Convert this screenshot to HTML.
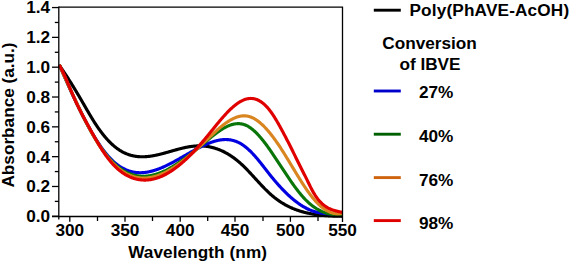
<!DOCTYPE html>
<html><head><meta charset="utf-8"><style>
html,body{margin:0;padding:0;background:#fff;width:569px;height:263px;overflow:hidden}
svg{display:block;font-family:"Liberation Sans", sans-serif}
</style></head><body>
<svg width="569" height="263" viewBox="0 0 569 263">
<rect width="569" height="263" fill="#fff"/>
<g fill="none" stroke-width="3.15" stroke-linejoin="round" stroke-linecap="butt">
<path stroke="#000000" d="M59.30,65.20 L59.80,65.92 L60.30,66.65 L60.80,67.37 L61.30,68.11 L61.80,68.84 L62.30,69.58 L62.80,70.32 L63.30,71.07 L63.80,71.81 L64.30,72.57 L64.80,73.32 L65.30,74.08 L65.80,74.84 L66.30,75.61 L66.80,76.38 L67.30,77.15 L67.80,77.93 L68.30,78.70 L68.80,79.49 L69.30,80.27 L69.80,81.06 L70.30,81.85 L70.80,82.65 L71.30,83.45 L71.80,84.25 L72.30,85.05 L72.80,85.86 L73.30,86.67 L73.80,87.49 L74.30,88.31 L74.80,89.13 L75.30,89.95 L75.80,90.78 L76.30,91.61 L76.80,92.44 L77.30,93.28 L77.80,94.12 L78.30,94.96 L78.80,95.81 L79.30,96.65 L79.80,97.51 L80.30,98.36 L80.80,99.22 L81.30,100.08 L81.80,100.94 L82.30,101.80 L82.80,102.67 L83.30,103.53 L83.80,104.40 L84.30,105.27 L84.80,106.13 L85.30,107.00 L85.80,107.86 L86.30,108.73 L86.80,109.59 L87.30,110.45 L87.80,111.31 L88.30,112.16 L88.80,113.01 L89.30,113.86 L89.80,114.70 L90.30,115.54 L90.80,116.38 L91.30,117.21 L91.80,118.03 L92.30,118.85 L92.80,119.66 L93.30,120.47 L93.80,121.27 L94.30,122.06 L94.80,122.85 L95.30,123.62 L95.80,124.39 L96.30,125.15 L96.80,125.90 L97.30,126.64 L97.80,127.37 L98.30,128.09 L98.80,128.80 L99.30,129.51 L99.80,130.20 L100.30,130.89 L100.80,131.56 L101.30,132.23 L101.80,132.88 L102.30,133.53 L102.80,134.17 L103.30,134.80 L103.80,135.42 L104.30,136.03 L104.80,136.63 L105.30,137.22 L105.80,137.80 L106.30,138.37 L106.80,138.94 L107.30,139.49 L107.80,140.03 L108.30,140.57 L108.80,141.10 L109.30,141.61 L109.80,142.12 L110.30,142.62 L110.80,143.11 L111.30,143.59 L111.80,144.06 L112.30,144.52 L112.80,144.97 L113.30,145.41 L113.80,145.84 L114.30,146.27 L114.80,146.68 L115.30,147.09 L115.80,147.48 L116.30,147.87 L116.80,148.25 L117.30,148.62 L117.80,148.97 L118.30,149.32 L118.80,149.66 L119.30,149.99 L119.80,150.32 L120.30,150.63 L120.80,150.93 L121.30,151.23 L121.80,151.51 L122.30,151.79 L122.80,152.06 L123.30,152.32 L123.80,152.57 L124.30,152.82 L124.80,153.05 L125.30,153.28 L125.80,153.50 L126.30,153.71 L126.80,153.91 L127.30,154.11 L127.80,154.29 L128.30,154.47 L128.80,154.65 L129.30,154.81 L129.80,154.97 L130.30,155.12 L130.80,155.26 L131.30,155.40 L131.80,155.53 L132.30,155.65 L132.80,155.77 L133.30,155.87 L133.80,155.98 L134.30,156.07 L134.80,156.16 L135.30,156.24 L135.80,156.32 L136.30,156.39 L136.80,156.45 L137.30,156.51 L137.80,156.56 L138.30,156.61 L138.80,156.65 L139.30,156.68 L139.80,156.71 L140.30,156.74 L140.80,156.75 L141.30,156.77 L141.80,156.77 L142.30,156.78 L142.80,156.77 L143.30,156.77 L143.80,156.75 L144.30,156.74 L144.80,156.71 L145.30,156.69 L145.80,156.66 L146.30,156.62 L146.80,156.58 L147.30,156.54 L147.80,156.49 L148.30,156.44 L148.80,156.38 L149.30,156.32 L149.80,156.25 L150.30,156.19 L150.80,156.12 L151.30,156.04 L151.80,155.96 L152.30,155.88 L152.80,155.80 L153.30,155.71 L153.80,155.62 L154.30,155.52 L154.80,155.42 L155.30,155.32 L155.80,155.22 L156.30,155.12 L156.80,155.01 L157.30,154.90 L157.80,154.78 L158.30,154.67 L158.80,154.55 L159.30,154.43 L159.80,154.31 L160.30,154.19 L160.80,154.06 L161.30,153.93 L161.80,153.81 L162.30,153.68 L162.80,153.54 L163.30,153.41 L163.80,153.28 L164.30,153.14 L164.80,153.00 L165.30,152.87 L165.80,152.73 L166.30,152.59 L166.80,152.45 L167.30,152.30 L167.80,152.16 L168.30,152.02 L168.80,151.88 L169.30,151.73 L169.80,151.59 L170.30,151.45 L170.80,151.30 L171.30,151.16 L171.80,151.02 L172.30,150.87 L172.80,150.73 L173.30,150.59 L173.80,150.45 L174.30,150.30 L174.80,150.16 L175.30,150.02 L175.80,149.88 L176.30,149.74 L176.80,149.61 L177.30,149.47 L177.80,149.34 L178.30,149.20 L178.80,149.07 L179.30,148.94 L179.80,148.81 L180.30,148.68 L180.80,148.55 L181.30,148.43 L181.80,148.31 L182.30,148.19 L182.80,148.07 L183.30,147.95 L183.80,147.84 L184.30,147.72 L184.80,147.61 L185.30,147.51 L185.80,147.40 L186.30,147.30 L186.80,147.20 L187.30,147.11 L187.80,147.01 L188.30,146.92 L188.80,146.84 L189.30,146.75 L189.80,146.67 L190.30,146.60 L190.80,146.52 L191.30,146.45 L191.80,146.39 L192.30,146.32 L192.80,146.26 L193.30,146.21 L193.80,146.16 L194.30,146.11 L194.80,146.07 L195.30,146.03 L195.80,146.00 L196.30,145.97 L196.80,145.94 L197.30,145.92 L197.80,145.91 L198.30,145.90 L198.80,145.89 L199.30,145.89 L199.80,145.89 L200.30,145.90 L200.80,145.91 L201.30,145.92 L201.80,145.94 L202.30,145.97 L202.80,146.00 L203.30,146.03 L203.80,146.07 L204.30,146.12 L204.80,146.17 L205.30,146.22 L205.80,146.28 L206.30,146.34 L206.80,146.41 L207.30,146.48 L207.80,146.56 L208.30,146.65 L208.80,146.73 L209.30,146.83 L209.80,146.92 L210.30,147.03 L210.80,147.14 L211.30,147.25 L211.80,147.37 L212.30,147.49 L212.80,147.62 L213.30,147.75 L213.80,147.89 L214.30,148.03 L214.80,148.18 L215.30,148.34 L215.80,148.50 L216.30,148.66 L216.80,148.83 L217.30,149.01 L217.80,149.19 L218.30,149.37 L218.80,149.56 L219.30,149.76 L219.80,149.96 L220.30,150.17 L220.80,150.38 L221.30,150.60 L221.80,150.82 L222.30,151.05 L222.80,151.29 L223.30,151.53 L223.80,151.78 L224.30,152.03 L224.80,152.28 L225.30,152.55 L225.80,152.82 L226.30,153.09 L226.80,153.37 L227.30,153.66 L227.80,153.95 L228.30,154.24 L228.80,154.55 L229.30,154.86 L229.80,155.17 L230.30,155.49 L230.80,155.82 L231.30,156.15 L231.80,156.49 L232.30,156.83 L232.80,157.18 L233.30,157.54 L233.80,157.90 L234.30,158.27 L234.80,158.64 L235.30,159.02 L235.80,159.41 L236.30,159.80 L236.80,160.20 L237.30,160.61 L237.80,161.02 L238.30,161.43 L238.80,161.86 L239.30,162.29 L239.80,162.72 L240.30,163.16 L240.80,163.61 L241.30,164.07 L241.80,164.53 L242.30,165.00 L242.80,165.47 L243.30,165.95 L243.80,166.43 L244.30,166.92 L244.80,167.42 L245.30,167.92 L245.80,168.42 L246.30,168.93 L246.80,169.44 L247.30,169.96 L247.80,170.48 L248.30,171.00 L248.80,171.53 L249.30,172.06 L249.80,172.59 L250.30,173.12 L250.80,173.66 L251.30,174.20 L251.80,174.74 L252.30,175.29 L252.80,175.83 L253.30,176.38 L253.80,176.92 L254.30,177.47 L254.80,178.02 L255.30,178.56 L255.80,179.11 L256.30,179.66 L256.80,180.21 L257.30,180.76 L257.80,181.30 L258.30,181.85 L258.80,182.39 L259.30,182.93 L259.80,183.47 L260.30,184.01 L260.80,184.55 L261.30,185.08 L261.80,185.61 L262.30,186.14 L262.80,186.66 L263.30,187.19 L263.80,187.70 L264.30,188.22 L264.80,188.73 L265.30,189.24 L265.80,189.74 L266.30,190.23 L266.80,190.73 L267.30,191.21 L267.80,191.69 L268.30,192.17 L268.80,192.64 L269.30,193.10 L269.80,193.56 L270.30,194.01 L270.80,194.46 L271.30,194.90 L271.80,195.33 L272.30,195.75 L272.80,196.17 L273.30,196.59 L273.80,196.99 L274.30,197.40 L274.80,197.79 L275.30,198.18 L275.80,198.56 L276.30,198.94 L276.80,199.31 L277.30,199.68 L277.80,200.04 L278.30,200.39 L278.80,200.74 L279.30,201.09 L279.80,201.42 L280.30,201.76 L280.80,202.08 L281.30,202.41 L281.80,202.72 L282.30,203.03 L282.80,203.34 L283.30,203.64 L283.80,203.94 L284.30,204.23 L284.80,204.51 L285.30,204.79 L285.80,205.07 L286.30,205.34 L286.80,205.61 L287.30,205.87 L287.80,206.13 L288.30,206.38 L288.80,206.63 L289.30,206.87 L289.80,207.11 L290.30,207.34 L290.80,207.57 L291.30,207.80 L291.80,208.02 L292.30,208.23 L292.80,208.45 L293.30,208.65 L293.80,208.86 L294.30,209.06 L294.80,209.26 L295.30,209.45 L295.80,209.64 L296.30,209.82 L296.80,210.00 L297.30,210.18 L297.80,210.35 L298.30,210.52 L298.80,210.69 L299.30,210.85 L299.80,211.01 L300.30,211.17 L300.80,211.32 L301.30,211.47 L301.80,211.61 L302.30,211.75 L302.80,211.89 L303.30,212.03 L303.80,212.16 L304.30,212.29 L304.80,212.42 L305.30,212.54 L305.80,212.66 L306.30,212.78 L306.80,212.90 L307.30,213.01 L307.80,213.12 L308.30,213.23 L308.80,213.33 L309.30,213.44 L309.80,213.54 L310.30,213.63 L310.80,213.73 L311.30,213.82 L311.80,213.91 L312.30,214.00 L312.80,214.08 L313.30,214.17 L313.80,214.25 L314.30,214.33 L314.80,214.41 L315.30,214.48 L315.80,214.56 L316.30,214.63 L316.80,214.70 L317.30,214.77 L317.80,214.83 L318.30,214.90 L318.80,214.96 L319.30,215.02 L319.80,215.08 L320.30,215.14 L320.80,215.19 L321.30,215.25 L321.80,215.30 L322.30,215.35 L322.80,215.40 L323.30,215.44 L323.80,215.49 L324.30,215.53 L324.80,215.58 L325.30,215.62 L325.80,215.66 L326.30,215.70 L326.80,215.73 L327.30,215.77 L327.80,215.80 L328.30,215.84 L328.80,215.87 L329.30,215.90 L329.80,215.93 L330.30,215.95 L330.80,215.98 L331.30,216.01 L331.80,216.03 L332.30,216.05 L332.80,216.08 L333.30,216.10 L333.80,216.12 L334.30,216.13 L334.80,216.15 L335.30,216.17 L335.80,216.18 L336.30,216.20 L336.80,216.21 L337.30,216.23 L337.80,216.24 L338.30,216.25 L338.80,216.26 L339.30,216.27 L339.80,216.28 L340.30,216.28 L340.80,216.29 L341.30,216.30 L341.80,216.30 L342.30,216.31 L342.80,216.31 L343.00,216.31"/>
<path stroke="#0000e0" d="M59.30,64.64 L59.80,65.80 L60.30,66.95 L60.80,68.10 L61.30,69.25 L61.80,70.40 L62.30,71.54 L62.80,72.69 L63.30,73.83 L63.80,74.97 L64.30,76.11 L64.80,77.24 L65.30,78.37 L65.80,79.50 L66.30,80.63 L66.80,81.75 L67.30,82.88 L67.80,83.99 L68.30,85.11 L68.80,86.22 L69.30,87.33 L69.80,88.44 L70.30,89.54 L70.80,90.64 L71.30,91.74 L71.80,92.83 L72.30,93.91 L72.80,95.00 L73.30,96.08 L73.80,97.16 L74.30,98.23 L74.80,99.30 L75.30,100.36 L75.80,101.42 L76.30,102.47 L76.80,103.52 L77.30,104.57 L77.80,105.61 L78.30,106.64 L78.80,107.67 L79.30,108.70 L79.80,109.72 L80.30,110.73 L80.80,111.74 L81.30,112.75 L81.80,113.75 L82.30,114.74 L82.80,115.73 L83.30,116.71 L83.80,117.68 L84.30,118.65 L84.80,119.62 L85.30,120.57 L85.80,121.52 L86.30,122.47 L86.80,123.41 L87.30,124.34 L87.80,125.26 L88.30,126.18 L88.80,127.09 L89.30,127.99 L89.80,128.89 L90.30,129.78 L90.80,130.66 L91.30,131.54 L91.80,132.41 L92.30,133.27 L92.80,134.12 L93.30,134.96 L93.80,135.80 L94.30,136.63 L94.80,137.45 L95.30,138.27 L95.80,139.07 L96.30,139.87 L96.80,140.66 L97.30,141.43 L97.80,142.21 L98.30,142.97 L98.80,143.72 L99.30,144.47 L99.80,145.20 L100.30,145.93 L100.80,146.65 L101.30,147.36 L101.80,148.06 L102.30,148.75 L102.80,149.43 L103.30,150.10 L103.80,150.76 L104.30,151.41 L104.80,152.05 L105.30,152.68 L105.80,153.30 L106.30,153.92 L106.80,154.52 L107.30,155.11 L107.80,155.69 L108.30,156.26 L108.80,156.82 L109.30,157.36 L109.80,157.90 L110.30,158.43 L110.80,158.94 L111.30,159.45 L111.80,159.94 L112.30,160.43 L112.80,160.90 L113.30,161.36 L113.80,161.81 L114.30,162.26 L114.80,162.69 L115.30,163.11 L115.80,163.52 L116.30,163.92 L116.80,164.31 L117.30,164.69 L117.80,165.06 L118.30,165.42 L118.80,165.77 L119.30,166.12 L119.80,166.45 L120.30,166.77 L120.80,167.08 L121.30,167.39 L121.80,167.68 L122.30,167.97 L122.80,168.24 L123.30,168.51 L123.80,168.77 L124.30,169.02 L124.80,169.26 L125.30,169.49 L125.80,169.71 L126.30,169.93 L126.80,170.13 L127.30,170.33 L127.80,170.52 L128.30,170.70 L128.80,170.87 L129.30,171.03 L129.80,171.19 L130.30,171.34 L130.80,171.48 L131.30,171.61 L131.80,171.73 L132.30,171.85 L132.80,171.96 L133.30,172.06 L133.80,172.15 L134.30,172.24 L134.80,172.32 L135.30,172.39 L135.80,172.46 L136.30,172.51 L136.80,172.56 L137.30,172.61 L137.80,172.64 L138.30,172.67 L138.80,172.69 L139.30,172.71 L139.80,172.72 L140.30,172.72 L140.80,172.72 L141.30,172.71 L141.80,172.69 L142.30,172.67 L142.80,172.64 L143.30,172.60 L143.80,172.56 L144.30,172.52 L144.80,172.46 L145.30,172.40 L145.80,172.34 L146.30,172.27 L146.80,172.19 L147.30,172.11 L147.80,172.02 L148.30,171.93 L148.80,171.83 L149.30,171.73 L149.80,171.62 L150.30,171.51 L150.80,171.39 L151.30,171.27 L151.80,171.14 L152.30,171.01 L152.80,170.87 L153.30,170.73 L153.80,170.58 L154.30,170.43 L154.80,170.27 L155.30,170.11 L155.80,169.95 L156.30,169.78 L156.80,169.61 L157.30,169.43 L157.80,169.25 L158.30,169.06 L158.80,168.88 L159.30,168.68 L159.80,168.49 L160.30,168.29 L160.80,168.08 L161.30,167.88 L161.80,167.67 L162.30,167.45 L162.80,167.24 L163.30,167.02 L163.80,166.80 L164.30,166.57 L164.80,166.34 L165.30,166.11 L165.80,165.87 L166.30,165.64 L166.80,165.40 L167.30,165.15 L167.80,164.91 L168.30,164.66 L168.80,164.41 L169.30,164.16 L169.80,163.90 L170.30,163.65 L170.80,163.39 L171.30,163.13 L171.80,162.87 L172.30,162.60 L172.80,162.34 L173.30,162.07 L173.80,161.80 L174.30,161.53 L174.80,161.25 L175.30,160.98 L175.80,160.70 L176.30,160.43 L176.80,160.15 L177.30,159.87 L177.80,159.59 L178.30,159.31 L178.80,159.03 L179.30,158.74 L179.80,158.46 L180.30,158.18 L180.80,157.89 L181.30,157.61 L181.80,157.32 L182.30,157.03 L182.80,156.75 L183.30,156.46 L183.80,156.17 L184.30,155.89 L184.80,155.60 L185.30,155.31 L185.80,155.03 L186.30,154.74 L186.80,154.45 L187.30,154.17 L187.80,153.88 L188.30,153.60 L188.80,153.31 L189.30,153.03 L189.80,152.74 L190.30,152.46 L190.80,152.18 L191.30,151.90 L191.80,151.62 L192.30,151.34 L192.80,151.07 L193.30,150.79 L193.80,150.51 L194.30,150.24 L194.80,149.97 L195.30,149.70 L195.80,149.43 L196.30,149.16 L196.80,148.90 L197.30,148.63 L197.80,148.37 L198.30,148.11 L198.80,147.85 L199.30,147.60 L199.80,147.35 L200.30,147.09 L200.80,146.85 L201.30,146.60 L201.80,146.36 L202.30,146.11 L202.80,145.87 L203.30,145.64 L203.80,145.41 L204.30,145.18 L204.80,144.95 L205.30,144.72 L205.80,144.50 L206.30,144.28 L206.80,144.07 L207.30,143.86 L207.80,143.65 L208.30,143.45 L208.80,143.25 L209.30,143.05 L209.80,142.86 L210.30,142.67 L210.80,142.48 L211.30,142.30 L211.80,142.13 L212.30,141.96 L212.80,141.79 L213.30,141.63 L213.80,141.48 L214.30,141.33 L214.80,141.18 L215.30,141.04 L215.80,140.91 L216.30,140.78 L216.80,140.65 L217.30,140.54 L217.80,140.42 L218.30,140.32 L218.80,140.22 L219.30,140.13 L219.80,140.04 L220.30,139.96 L220.80,139.88 L221.30,139.82 L221.80,139.76 L222.30,139.70 L222.80,139.66 L223.30,139.62 L223.80,139.59 L224.30,139.56 L224.80,139.55 L225.30,139.54 L225.80,139.54 L226.30,139.54 L226.80,139.56 L227.30,139.58 L227.80,139.61 L228.30,139.65 L228.80,139.70 L229.30,139.76 L229.80,139.82 L230.30,139.90 L230.80,139.98 L231.30,140.07 L231.80,140.18 L232.30,140.29 L232.80,140.41 L233.30,140.54 L233.80,140.68 L234.30,140.83 L234.80,140.99 L235.30,141.16 L235.80,141.34 L236.30,141.53 L236.80,141.73 L237.30,141.94 L237.80,142.16 L238.30,142.39 L238.80,142.63 L239.30,142.89 L239.80,143.15 L240.30,143.43 L240.80,143.72 L241.30,144.02 L241.80,144.33 L242.30,144.65 L242.80,144.98 L243.30,145.33 L243.80,145.68 L244.30,146.05 L244.80,146.43 L245.30,146.82 L245.80,147.21 L246.30,147.62 L246.80,148.04 L247.30,148.47 L247.80,148.91 L248.30,149.35 L248.80,149.81 L249.30,150.27 L249.80,150.75 L250.30,151.23 L250.80,151.73 L251.30,152.23 L251.80,152.74 L252.30,153.25 L252.80,153.78 L253.30,154.31 L253.80,154.85 L254.30,155.40 L254.80,155.96 L255.30,156.52 L255.80,157.09 L256.30,157.67 L256.80,158.25 L257.30,158.84 L257.80,159.44 L258.30,160.04 L258.80,160.65 L259.30,161.27 L259.80,161.89 L260.30,162.51 L260.80,163.14 L261.30,163.77 L261.80,164.40 L262.30,165.04 L262.80,165.68 L263.30,166.32 L263.80,166.96 L264.30,167.61 L264.80,168.25 L265.30,168.90 L265.80,169.54 L266.30,170.19 L266.80,170.83 L267.30,171.47 L267.80,172.11 L268.30,172.75 L268.80,173.39 L269.30,174.02 L269.80,174.65 L270.30,175.28 L270.80,175.90 L271.30,176.52 L271.80,177.13 L272.30,177.74 L272.80,178.35 L273.30,178.95 L273.80,179.55 L274.30,180.15 L274.80,180.74 L275.30,181.33 L275.80,181.91 L276.30,182.49 L276.80,183.07 L277.30,183.64 L277.80,184.20 L278.30,184.77 L278.80,185.32 L279.30,185.88 L279.80,186.43 L280.30,186.97 L280.80,187.51 L281.30,188.05 L281.80,188.58 L282.30,189.11 L282.80,189.63 L283.30,190.15 L283.80,190.66 L284.30,191.17 L284.80,191.67 L285.30,192.17 L285.80,192.66 L286.30,193.15 L286.80,193.64 L287.30,194.12 L287.80,194.59 L288.30,195.06 L288.80,195.52 L289.30,195.98 L289.80,196.44 L290.30,196.89 L290.80,197.33 L291.30,197.77 L291.80,198.20 L292.30,198.63 L292.80,199.05 L293.30,199.47 L293.80,199.88 L294.30,200.28 L294.80,200.68 L295.30,201.08 L295.80,201.47 L296.30,201.85 L296.80,202.23 L297.30,202.60 L297.80,202.96 L298.30,203.32 L298.80,203.68 L299.30,204.03 L299.80,204.37 L300.30,204.71 L300.80,205.04 L301.30,205.36 L301.80,205.68 L302.30,205.99 L302.80,206.30 L303.30,206.60 L303.80,206.89 L304.30,207.18 L304.80,207.46 L305.30,207.74 L305.80,208.01 L306.30,208.27 L306.80,208.53 L307.30,208.78 L307.80,209.02 L308.30,209.25 L308.80,209.48 L309.30,209.71 L309.80,209.92 L310.30,210.13 L310.80,210.34 L311.30,210.53 L311.80,210.72 L312.30,210.90 L312.80,211.08 L313.30,211.25 L313.80,211.41 L314.30,211.56 L314.80,211.71 L315.30,211.85 L315.80,211.99 L316.30,212.11 L316.80,212.24 L317.30,212.35 L317.80,212.46 L318.30,212.57 L318.80,212.67 L319.30,212.76 L319.80,212.85 L320.30,212.94 L320.80,213.02 L321.30,213.09 L321.80,213.17 L322.30,213.24 L322.80,213.30 L323.30,213.37 L323.80,213.43 L324.30,213.49 L324.80,213.54 L325.30,213.59 L325.80,213.65 L326.30,213.70 L326.80,213.74 L327.30,213.79 L327.80,213.84 L328.30,213.88 L328.80,213.93 L329.30,213.97 L329.80,214.01 L330.30,214.06 L330.80,214.10 L331.30,214.15 L331.80,214.19 L332.30,214.24 L332.80,214.29 L333.30,214.34 L333.80,214.39 L334.30,214.44 L334.80,214.49 L335.30,214.55 L335.80,214.61 L336.30,214.67 L336.80,214.74 L337.30,214.81 L337.80,214.88 L338.30,214.96 L338.80,215.04 L339.30,215.12 L339.80,215.21 L340.30,215.31 L340.80,215.41 L341.30,215.51 L341.80,215.62 L342.30,215.74 L342.50,215.78"/>
<path stroke="#0a760a" d="M59.30,64.60 L59.80,65.75 L60.30,66.90 L60.80,68.05 L61.30,69.20 L61.80,70.34 L62.30,71.48 L62.80,72.62 L63.30,73.76 L63.80,74.90 L64.30,76.04 L64.80,77.17 L65.30,78.30 L65.80,79.43 L66.30,80.56 L66.80,81.69 L67.30,82.81 L67.80,83.93 L68.30,85.05 L68.80,86.16 L69.30,87.27 L69.80,88.38 L70.30,89.49 L70.80,90.59 L71.30,91.69 L71.80,92.78 L72.30,93.88 L72.80,94.96 L73.30,96.05 L73.80,97.13 L74.30,98.21 L74.80,99.28 L75.30,100.35 L75.80,101.42 L76.30,102.48 L76.80,103.54 L77.30,104.59 L77.80,105.64 L78.30,106.68 L78.80,107.72 L79.30,108.75 L79.80,109.78 L80.30,110.81 L80.80,111.83 L81.30,112.84 L81.80,113.85 L82.30,114.85 L82.80,115.85 L83.30,116.84 L83.80,117.83 L84.30,118.81 L84.80,119.78 L85.30,120.75 L85.80,121.72 L86.30,122.67 L86.80,123.62 L87.30,124.57 L87.80,125.51 L88.30,126.44 L88.80,127.36 L89.30,128.28 L89.80,129.19 L90.30,130.10 L90.80,130.99 L91.30,131.88 L91.80,132.77 L92.30,133.64 L92.80,134.51 L93.30,135.37 L93.80,136.22 L94.30,137.07 L94.80,137.91 L95.30,138.74 L95.80,139.56 L96.30,140.37 L96.80,141.18 L97.30,141.98 L97.80,142.77 L98.30,143.55 L98.80,144.32 L99.30,145.08 L99.80,145.84 L100.30,146.58 L100.80,147.32 L101.30,148.05 L101.80,148.77 L102.30,149.48 L102.80,150.18 L103.30,150.87 L103.80,151.55 L104.30,152.22 L104.80,152.89 L105.30,153.54 L105.80,154.18 L106.30,154.81 L106.80,155.44 L107.30,156.05 L107.80,156.65 L108.30,157.24 L108.80,157.83 L109.30,158.40 L109.80,158.96 L110.30,159.51 L110.80,160.05 L111.30,160.58 L111.80,161.10 L112.30,161.62 L112.80,162.12 L113.30,162.61 L113.80,163.09 L114.30,163.57 L114.80,164.03 L115.30,164.48 L115.80,164.93 L116.30,165.36 L116.80,165.79 L117.30,166.20 L117.80,166.61 L118.30,167.01 L118.80,167.39 L119.30,167.77 L119.80,168.14 L120.30,168.50 L120.80,168.86 L121.30,169.20 L121.80,169.53 L122.30,169.86 L122.80,170.18 L123.30,170.48 L123.80,170.78 L124.30,171.07 L124.80,171.36 L125.30,171.63 L125.80,171.89 L126.30,172.15 L126.80,172.40 L127.30,172.64 L127.80,172.87 L128.30,173.10 L128.80,173.31 L129.30,173.52 L129.80,173.72 L130.30,173.91 L130.80,174.09 L131.30,174.27 L131.80,174.44 L132.30,174.60 L132.80,174.75 L133.30,174.89 L133.80,175.03 L134.30,175.16 L134.80,175.28 L135.30,175.40 L135.80,175.50 L136.30,175.60 L136.80,175.69 L137.30,175.78 L137.80,175.86 L138.30,175.93 L138.80,175.99 L139.30,176.05 L139.80,176.10 L140.30,176.14 L140.80,176.18 L141.30,176.21 L141.80,176.23 L142.30,176.24 L142.80,176.25 L143.30,176.25 L143.80,176.25 L144.30,176.24 L144.80,176.22 L145.30,176.20 L145.80,176.17 L146.30,176.13 L146.80,176.09 L147.30,176.04 L147.80,175.98 L148.30,175.92 L148.80,175.85 L149.30,175.78 L149.80,175.70 L150.30,175.61 L150.80,175.52 L151.30,175.43 L151.80,175.32 L152.30,175.22 L152.80,175.10 L153.30,174.98 L153.80,174.86 L154.30,174.73 L154.80,174.59 L155.30,174.45 L155.80,174.30 L156.30,174.15 L156.80,173.99 L157.30,173.83 L157.80,173.66 L158.30,173.49 L158.80,173.31 L159.30,173.13 L159.80,172.94 L160.30,172.75 L160.80,172.55 L161.30,172.35 L161.80,172.14 L162.30,171.93 L162.80,171.71 L163.30,171.49 L163.80,171.27 L164.30,171.04 L164.80,170.80 L165.30,170.57 L165.80,170.32 L166.30,170.08 L166.80,169.82 L167.30,169.57 L167.80,169.31 L168.30,169.05 L168.80,168.78 L169.30,168.51 L169.80,168.23 L170.30,167.95 L170.80,167.67 L171.30,167.38 L171.80,167.09 L172.30,166.80 L172.80,166.50 L173.30,166.20 L173.80,165.90 L174.30,165.59 L174.80,165.28 L175.30,164.97 L175.80,164.65 L176.30,164.33 L176.80,164.00 L177.30,163.68 L177.80,163.35 L178.30,163.01 L178.80,162.68 L179.30,162.34 L179.80,162.00 L180.30,161.65 L180.80,161.30 L181.30,160.95 L181.80,160.60 L182.30,160.25 L182.80,159.89 L183.30,159.53 L183.80,159.17 L184.30,158.80 L184.80,158.43 L185.30,158.06 L185.80,157.69 L186.30,157.32 L186.80,156.94 L187.30,156.56 L187.80,156.18 L188.30,155.80 L188.80,155.42 L189.30,155.03 L189.80,154.64 L190.30,154.25 L190.80,153.86 L191.30,153.47 L191.80,153.08 L192.30,152.68 L192.80,152.28 L193.30,151.88 L193.80,151.48 L194.30,151.08 L194.80,150.68 L195.30,150.28 L195.80,149.87 L196.30,149.46 L196.80,149.06 L197.30,148.65 L197.80,148.24 L198.30,147.83 L198.80,147.42 L199.30,147.00 L199.80,146.59 L200.30,146.18 L200.80,145.76 L201.30,145.35 L201.80,144.93 L202.30,144.52 L202.80,144.10 L203.30,143.69 L203.80,143.27 L204.30,142.85 L204.80,142.43 L205.30,142.02 L205.80,141.60 L206.30,141.18 L206.80,140.76 L207.30,140.35 L207.80,139.93 L208.30,139.52 L208.80,139.10 L209.30,138.69 L209.80,138.28 L210.30,137.87 L210.80,137.46 L211.30,137.06 L211.80,136.65 L212.30,136.25 L212.80,135.85 L213.30,135.46 L213.80,135.07 L214.30,134.68 L214.80,134.29 L215.30,133.91 L215.80,133.53 L216.30,133.16 L216.80,132.79 L217.30,132.42 L217.80,132.06 L218.30,131.71 L218.80,131.36 L219.30,131.01 L219.80,130.67 L220.30,130.34 L220.80,130.01 L221.30,129.69 L221.80,129.37 L222.30,129.06 L222.80,128.75 L223.30,128.46 L223.80,128.17 L224.30,127.88 L224.80,127.61 L225.30,127.34 L225.80,127.08 L226.30,126.83 L226.80,126.58 L227.30,126.35 L227.80,126.12 L228.30,125.90 L228.80,125.69 L229.30,125.49 L229.80,125.30 L230.30,125.12 L230.80,124.95 L231.30,124.78 L231.80,124.63 L232.30,124.49 L232.80,124.36 L233.30,124.23 L233.80,124.12 L234.30,124.03 L234.80,123.94 L235.30,123.86 L235.80,123.80 L236.30,123.74 L236.80,123.70 L237.30,123.67 L237.80,123.66 L238.30,123.65 L238.80,123.66 L239.30,123.68 L239.80,123.72 L240.30,123.76 L240.80,123.83 L241.30,123.90 L241.80,123.99 L242.30,124.10 L242.80,124.21 L243.30,124.35 L243.80,124.49 L244.30,124.66 L244.80,124.83 L245.30,125.02 L245.80,125.23 L246.30,125.46 L246.80,125.70 L247.30,125.95 L247.80,126.22 L248.30,126.51 L248.80,126.81 L249.30,127.12 L249.80,127.45 L250.30,127.79 L250.80,128.15 L251.30,128.52 L251.80,128.90 L252.30,129.30 L252.80,129.71 L253.30,130.13 L253.80,130.57 L254.30,131.02 L254.80,131.47 L255.30,131.95 L255.80,132.43 L256.30,132.92 L256.80,133.43 L257.30,133.94 L257.80,134.47 L258.30,135.01 L258.80,135.55 L259.30,136.11 L259.80,136.68 L260.30,137.25 L260.80,137.84 L261.30,138.43 L261.80,139.03 L262.30,139.64 L262.80,140.26 L263.30,140.89 L263.80,141.53 L264.30,142.17 L264.80,142.82 L265.30,143.48 L265.80,144.14 L266.30,144.81 L266.80,145.49 L267.30,146.17 L267.80,146.86 L268.30,147.56 L268.80,148.26 L269.30,148.97 L269.80,149.68 L270.30,150.39 L270.80,151.11 L271.30,151.84 L271.80,152.57 L272.30,153.30 L272.80,154.03 L273.30,154.77 L273.80,155.52 L274.30,156.26 L274.80,157.01 L275.30,157.76 L275.80,158.51 L276.30,159.27 L276.80,160.02 L277.30,160.78 L277.80,161.54 L278.30,162.30 L278.80,163.07 L279.30,163.83 L279.80,164.59 L280.30,165.35 L280.80,166.12 L281.30,166.88 L281.80,167.65 L282.30,168.41 L282.80,169.17 L283.30,169.93 L283.80,170.69 L284.30,171.45 L284.80,172.21 L285.30,172.97 L285.80,173.72 L286.30,174.47 L286.80,175.22 L287.30,175.97 L287.80,176.71 L288.30,177.45 L288.80,178.19 L289.30,178.93 L289.80,179.66 L290.30,180.39 L290.80,181.11 L291.30,181.83 L291.80,182.55 L292.30,183.26 L292.80,183.96 L293.30,184.66 L293.80,185.36 L294.30,186.05 L294.80,186.74 L295.30,187.42 L295.80,188.09 L296.30,188.76 L296.80,189.42 L297.30,190.07 L297.80,190.72 L298.30,191.36 L298.80,191.99 L299.30,192.62 L299.80,193.24 L300.30,193.85 L300.80,194.45 L301.30,195.04 L301.80,195.63 L302.30,196.21 L302.80,196.77 L303.30,197.33 L303.80,197.88 L304.30,198.42 L304.80,198.96 L305.30,199.48 L305.80,199.99 L306.30,200.49 L306.80,200.98 L307.30,201.46 L307.80,201.93 L308.30,202.40 L308.80,202.85 L309.30,203.29 L309.80,203.73 L310.30,204.15 L310.80,204.57 L311.30,204.97 L311.80,205.37 L312.30,205.76 L312.80,206.13 L313.30,206.50 L313.80,206.87 L314.30,207.22 L314.80,207.56 L315.30,207.89 L315.80,208.22 L316.30,208.54 L316.80,208.84 L317.30,209.14 L317.80,209.43 L318.30,209.72 L318.80,209.99 L319.30,210.26 L319.80,210.52 L320.30,210.77 L320.80,211.01 L321.30,211.24 L321.80,211.47 L322.30,211.68 L322.80,211.89 L323.30,212.10 L323.80,212.29 L324.30,212.48 L324.80,212.65 L325.30,212.83 L325.80,212.99 L326.30,213.15 L326.80,213.29 L327.30,213.44 L327.80,213.57 L328.30,213.70 L328.80,213.82 L329.30,213.93 L329.80,214.04 L330.30,214.13 L330.80,214.23 L331.30,214.31 L331.80,214.39 L332.30,214.46 L332.80,214.52 L333.30,214.58 L333.80,214.63 L334.30,214.68 L334.80,214.72 L335.30,214.75 L335.80,214.78 L336.30,214.80 L336.80,214.81 L337.30,214.82 L337.80,214.82 L338.30,214.81 L338.80,214.80 L339.30,214.78 L339.80,214.76 L340.30,214.73 L340.80,214.70 L341.30,214.66 L341.80,214.61 L342.30,214.56 L342.50,214.54"/>
<path stroke="#d98620" d="M59.30,64.87 L59.80,65.99 L60.30,67.10 L60.80,68.22 L61.30,69.33 L61.80,70.45 L62.30,71.56 L62.80,72.68 L63.30,73.79 L63.80,74.90 L64.30,76.02 L64.80,77.13 L65.30,78.24 L65.80,79.35 L66.30,80.46 L66.80,81.56 L67.30,82.67 L67.80,83.77 L68.30,84.87 L68.80,85.97 L69.30,87.07 L69.80,88.17 L70.30,89.26 L70.80,90.35 L71.30,91.44 L71.80,92.53 L72.30,93.62 L72.80,94.70 L73.30,95.78 L73.80,96.85 L74.30,97.93 L74.80,99.00 L75.30,100.07 L75.80,101.13 L76.30,102.19 L76.80,103.25 L77.30,104.30 L77.80,105.35 L78.30,106.40 L78.80,107.44 L79.30,108.47 L79.80,109.51 L80.30,110.54 L80.80,111.56 L81.30,112.58 L81.80,113.60 L82.30,114.61 L82.80,115.62 L83.30,116.62 L83.80,117.61 L84.30,118.60 L84.80,119.59 L85.30,120.57 L85.80,121.54 L86.30,122.51 L86.80,123.48 L87.30,124.43 L87.80,125.39 L88.30,126.33 L88.80,127.27 L89.30,128.20 L89.80,129.13 L90.30,130.05 L90.80,130.96 L91.30,131.87 L91.80,132.77 L92.30,133.67 L92.80,134.55 L93.30,135.43 L93.80,136.30 L94.30,137.17 L94.80,138.02 L95.30,138.87 L95.80,139.72 L96.30,140.55 L96.80,141.38 L97.30,142.19 L97.80,143.00 L98.30,143.80 L98.80,144.60 L99.30,145.38 L99.80,146.16 L100.30,146.93 L100.80,147.69 L101.30,148.44 L101.80,149.18 L102.30,149.91 L102.80,150.63 L103.30,151.34 L103.80,152.05 L104.30,152.74 L104.80,153.43 L105.30,154.10 L105.80,154.77 L106.30,155.42 L106.80,156.07 L107.30,156.70 L107.80,157.33 L108.30,157.94 L108.80,158.54 L109.30,159.14 L109.80,159.72 L110.30,160.29 L110.80,160.86 L111.30,161.41 L111.80,161.95 L112.30,162.48 L112.80,163.01 L113.30,163.52 L113.80,164.02 L114.30,164.52 L114.80,165.00 L115.30,165.47 L115.80,165.94 L116.30,166.39 L116.80,166.84 L117.30,167.27 L117.80,167.70 L118.30,168.12 L118.80,168.53 L119.30,168.92 L119.80,169.31 L120.30,169.69 L120.80,170.06 L121.30,170.43 L121.80,170.78 L122.30,171.12 L122.80,171.46 L123.30,171.78 L123.80,172.10 L124.30,172.41 L124.80,172.71 L125.30,173.00 L125.80,173.28 L126.30,173.55 L126.80,173.82 L127.30,174.07 L127.80,174.32 L128.30,174.56 L128.80,174.79 L129.30,175.01 L129.80,175.23 L130.30,175.43 L130.80,175.63 L131.30,175.82 L131.80,176.00 L132.30,176.18 L132.80,176.34 L133.30,176.50 L133.80,176.65 L134.30,176.79 L134.80,176.93 L135.30,177.05 L135.80,177.17 L136.30,177.28 L136.80,177.39 L137.30,177.48 L137.80,177.57 L138.30,177.65 L138.80,177.73 L139.30,177.80 L139.80,177.85 L140.30,177.91 L140.80,177.95 L141.30,177.99 L141.80,178.02 L142.30,178.04 L142.80,178.06 L143.30,178.07 L143.80,178.07 L144.30,178.07 L144.80,178.06 L145.30,178.04 L145.80,178.01 L146.30,177.98 L146.80,177.95 L147.30,177.90 L147.80,177.85 L148.30,177.79 L148.80,177.73 L149.30,177.66 L149.80,177.58 L150.30,177.50 L150.80,177.41 L151.30,177.32 L151.80,177.21 L152.30,177.11 L152.80,176.99 L153.30,176.87 L153.80,176.75 L154.30,176.62 L154.80,176.48 L155.30,176.34 L155.80,176.19 L156.30,176.04 L156.80,175.88 L157.30,175.71 L157.80,175.54 L158.30,175.36 L158.80,175.18 L159.30,174.99 L159.80,174.80 L160.30,174.60 L160.80,174.40 L161.30,174.19 L161.80,173.98 L162.30,173.76 L162.80,173.54 L163.30,173.31 L163.80,173.07 L164.30,172.83 L164.80,172.59 L165.30,172.34 L165.80,172.09 L166.30,171.83 L166.80,171.57 L167.30,171.30 L167.80,171.03 L168.30,170.76 L168.80,170.47 L169.30,170.19 L169.80,169.90 L170.30,169.61 L170.80,169.31 L171.30,169.01 L171.80,168.70 L172.30,168.39 L172.80,168.07 L173.30,167.76 L173.80,167.43 L174.30,167.11 L174.80,166.78 L175.30,166.44 L175.80,166.10 L176.30,165.76 L176.80,165.42 L177.30,165.07 L177.80,164.72 L178.30,164.36 L178.80,164.00 L179.30,163.64 L179.80,163.27 L180.30,162.90 L180.80,162.53 L181.30,162.15 L181.80,161.77 L182.30,161.39 L182.80,161.00 L183.30,160.61 L183.80,160.22 L184.30,159.83 L184.80,159.43 L185.30,159.03 L185.80,158.62 L186.30,158.22 L186.80,157.81 L187.30,157.40 L187.80,156.98 L188.30,156.56 L188.80,156.14 L189.30,155.72 L189.80,155.30 L190.30,154.87 L190.80,154.44 L191.30,154.01 L191.80,153.58 L192.30,153.14 L192.80,152.70 L193.30,152.26 L193.80,151.82 L194.30,151.38 L194.80,150.93 L195.30,150.48 L195.80,150.03 L196.30,149.58 L196.80,149.13 L197.30,148.68 L197.80,148.22 L198.30,147.76 L198.80,147.30 L199.30,146.84 L199.80,146.38 L200.30,145.91 L200.80,145.45 L201.30,144.98 L201.80,144.51 L202.30,144.04 L202.80,143.57 L203.30,143.10 L203.80,142.63 L204.30,142.16 L204.80,141.68 L205.30,141.21 L205.80,140.73 L206.30,140.25 L206.80,139.78 L207.30,139.30 L207.80,138.82 L208.30,138.34 L208.80,137.87 L209.30,137.39 L209.80,136.91 L210.30,136.44 L210.80,135.96 L211.30,135.49 L211.80,135.02 L212.30,134.55 L212.80,134.08 L213.30,133.61 L213.80,133.15 L214.30,132.69 L214.80,132.23 L215.30,131.77 L215.80,131.32 L216.30,130.86 L216.80,130.42 L217.30,129.97 L217.80,129.53 L218.30,129.09 L218.80,128.66 L219.30,128.23 L219.80,127.80 L220.30,127.38 L220.80,126.96 L221.30,126.55 L221.80,126.15 L222.30,125.74 L222.80,125.35 L223.30,124.96 L223.80,124.57 L224.30,124.19 L224.80,123.82 L225.30,123.45 L225.80,123.09 L226.30,122.73 L226.80,122.38 L227.30,122.04 L227.80,121.71 L228.30,121.38 L228.80,121.06 L229.30,120.75 L229.80,120.45 L230.30,120.15 L230.80,119.86 L231.30,119.58 L231.80,119.31 L232.30,119.05 L232.80,118.80 L233.30,118.55 L233.80,118.32 L234.30,118.09 L234.80,117.87 L235.30,117.67 L235.80,117.47 L236.30,117.28 L236.80,117.11 L237.30,116.94 L237.80,116.79 L238.30,116.64 L238.80,116.51 L239.30,116.39 L239.80,116.28 L240.30,116.18 L240.80,116.09 L241.30,116.01 L241.80,115.95 L242.30,115.90 L242.80,115.86 L243.30,115.83 L243.80,115.82 L244.30,115.82 L244.80,115.83 L245.30,115.86 L245.80,115.90 L246.30,115.95 L246.80,116.02 L247.30,116.10 L247.80,116.19 L248.30,116.30 L248.80,116.43 L249.30,116.56 L249.80,116.72 L250.30,116.88 L250.80,117.06 L251.30,117.26 L251.80,117.47 L252.30,117.69 L252.80,117.93 L253.30,118.17 L253.80,118.44 L254.30,118.71 L254.80,119.00 L255.30,119.30 L255.80,119.61 L256.30,119.94 L256.80,120.28 L257.30,120.63 L257.80,120.99 L258.30,121.36 L258.80,121.75 L259.30,122.15 L259.80,122.55 L260.30,122.98 L260.80,123.41 L261.30,123.85 L261.80,124.30 L262.30,124.77 L262.80,125.24 L263.30,125.73 L263.80,126.22 L264.30,126.73 L264.80,127.25 L265.30,127.77 L265.80,128.31 L266.30,128.85 L266.80,129.41 L267.30,129.97 L267.80,130.55 L268.30,131.13 L268.80,131.72 L269.30,132.32 L269.80,132.93 L270.30,133.55 L270.80,134.17 L271.30,134.81 L271.80,135.45 L272.30,136.10 L272.80,136.76 L273.30,137.42 L273.80,138.10 L274.30,138.78 L274.80,139.47 L275.30,140.16 L275.80,140.86 L276.30,141.57 L276.80,142.29 L277.30,143.01 L277.80,143.74 L278.30,144.47 L278.80,145.21 L279.30,145.96 L279.80,146.71 L280.30,147.47 L280.80,148.24 L281.30,149.01 L281.80,149.78 L282.30,150.56 L282.80,151.35 L283.30,152.14 L283.80,152.93 L284.30,153.73 L284.80,154.53 L285.30,155.33 L285.80,156.14 L286.30,156.96 L286.80,157.77 L287.30,158.59 L287.80,159.41 L288.30,160.23 L288.80,161.05 L289.30,161.88 L289.80,162.70 L290.30,163.53 L290.80,164.36 L291.30,165.19 L291.80,166.02 L292.30,166.84 L292.80,167.67 L293.30,168.50 L293.80,169.33 L294.30,170.16 L294.80,170.98 L295.30,171.81 L295.80,172.63 L296.30,173.45 L296.80,174.27 L297.30,175.09 L297.80,175.90 L298.30,176.72 L298.80,177.52 L299.30,178.33 L299.80,179.13 L300.30,179.93 L300.80,180.72 L301.30,181.51 L301.80,182.30 L302.30,183.08 L302.80,183.85 L303.30,184.62 L303.80,185.38 L304.30,186.14 L304.80,186.89 L305.30,187.64 L305.80,188.38 L306.30,189.11 L306.80,189.84 L307.30,190.56 L307.80,191.27 L308.30,191.97 L308.80,192.66 L309.30,193.35 L309.80,194.03 L310.30,194.70 L310.80,195.36 L311.30,196.01 L311.80,196.65 L312.30,197.28 L312.80,197.90 L313.30,198.51 L313.80,199.12 L314.30,199.71 L314.80,200.29 L315.30,200.85 L315.80,201.41 L316.30,201.95 L316.80,202.49 L317.30,203.01 L317.80,203.52 L318.30,204.01 L318.80,204.50 L319.30,204.97 L319.80,205.43 L320.30,205.88 L320.80,206.32 L321.30,206.74 L321.80,207.15 L322.30,207.55 L322.80,207.94 L323.30,208.32 L323.80,208.68 L324.30,209.03 L324.80,209.37 L325.30,209.70 L325.80,210.01 L326.30,210.31 L326.80,210.60 L327.30,210.88 L327.80,211.15 L328.30,211.40 L328.80,211.64 L329.30,211.87 L329.80,212.08 L330.30,212.29 L330.80,212.48 L331.30,212.66 L331.80,212.82 L332.30,212.98 L332.80,213.12 L333.30,213.25 L333.80,213.37 L334.30,213.47 L334.80,213.56 L335.30,213.64 L335.80,213.71 L336.30,213.76 L336.80,213.81 L337.30,213.84 L337.80,213.85 L338.30,213.86 L338.80,213.85 L339.30,213.83 L339.80,213.80 L340.30,213.75 L340.80,213.69 L341.30,213.62 L341.80,213.54 L342.30,213.44 L342.50,213.40"/>
<path stroke="#e00000" d="M59.30,65.00 L59.80,65.89 L60.30,66.81 L60.80,67.75 L61.30,68.73 L61.80,69.73 L62.30,70.75 L62.80,71.79 L63.30,72.86 L63.80,73.94 L64.30,75.04 L64.80,76.16 L65.30,77.29 L65.80,78.44 L66.30,79.59 L66.80,80.76 L67.30,81.93 L67.80,83.11 L68.30,84.30 L68.80,85.49 L69.30,86.68 L69.80,87.87 L70.30,89.06 L70.80,90.25 L71.30,91.43 L71.80,92.61 L72.30,93.78 L72.80,94.95 L73.30,96.10 L73.80,97.24 L74.30,98.37 L74.80,99.48 L75.30,100.58 L75.80,101.66 L76.30,102.74 L76.80,103.80 L77.30,104.84 L77.80,105.88 L78.30,106.90 L78.80,107.92 L79.30,108.92 L79.80,109.91 L80.30,110.90 L80.80,111.88 L81.30,112.85 L81.80,113.81 L82.30,114.76 L82.80,115.71 L83.30,116.66 L83.80,117.59 L84.30,118.53 L84.80,119.46 L85.30,120.38 L85.80,121.31 L86.30,122.23 L86.80,123.14 L87.30,124.06 L87.80,124.98 L88.30,125.89 L88.80,126.81 L89.30,127.72 L89.80,128.63 L90.30,129.54 L90.80,130.45 L91.30,131.35 L91.80,132.26 L92.30,133.16 L92.80,134.05 L93.30,134.95 L93.80,135.84 L94.30,136.72 L94.80,137.60 L95.30,138.48 L95.80,139.35 L96.30,140.21 L96.80,141.07 L97.30,141.93 L97.80,142.78 L98.30,143.62 L98.80,144.46 L99.30,145.28 L99.80,146.11 L100.30,146.92 L100.80,147.73 L101.30,148.52 L101.80,149.31 L102.30,150.09 L102.80,150.87 L103.30,151.63 L103.80,152.38 L104.30,153.13 L104.80,153.86 L105.30,154.58 L105.80,155.30 L106.30,156.00 L106.80,156.69 L107.30,157.37 L107.80,158.04 L108.30,158.69 L108.80,159.33 L109.30,159.97 L109.80,160.59 L110.30,161.20 L110.80,161.80 L111.30,162.38 L111.80,162.96 L112.30,163.52 L112.80,164.08 L113.30,164.62 L113.80,165.15 L114.30,165.67 L114.80,166.18 L115.30,166.68 L115.80,167.17 L116.30,167.65 L116.80,168.11 L117.30,168.57 L117.80,169.02 L118.30,169.46 L118.80,169.88 L119.30,170.30 L119.80,170.71 L120.30,171.11 L120.80,171.49 L121.30,171.87 L121.80,172.24 L122.30,172.60 L122.80,172.95 L123.30,173.29 L123.80,173.62 L124.30,173.94 L124.80,174.25 L125.30,174.55 L125.80,174.85 L126.30,175.13 L126.80,175.41 L127.30,175.68 L127.80,175.94 L128.30,176.19 L128.80,176.43 L129.30,176.66 L129.80,176.89 L130.30,177.10 L130.80,177.31 L131.30,177.51 L131.80,177.70 L132.30,177.89 L132.80,178.06 L133.30,178.23 L133.80,178.39 L134.30,178.55 L134.80,178.69 L135.30,178.83 L135.80,178.96 L136.30,179.09 L136.80,179.20 L137.30,179.31 L137.80,179.41 L138.30,179.51 L138.80,179.59 L139.30,179.67 L139.80,179.75 L140.30,179.81 L140.80,179.87 L141.30,179.92 L141.80,179.96 L142.30,180.00 L142.80,180.03 L143.30,180.05 L143.80,180.07 L144.30,180.08 L144.80,180.08 L145.30,180.07 L145.80,180.06 L146.30,180.04 L146.80,180.02 L147.30,179.98 L147.80,179.94 L148.30,179.90 L148.80,179.85 L149.30,179.79 L149.80,179.72 L150.30,179.65 L150.80,179.57 L151.30,179.48 L151.80,179.39 L152.30,179.29 L152.80,179.19 L153.30,179.07 L153.80,178.96 L154.30,178.83 L154.80,178.70 L155.30,178.56 L155.80,178.42 L156.30,178.27 L156.80,178.11 L157.30,177.95 L157.80,177.78 L158.30,177.60 L158.80,177.42 L159.30,177.24 L159.80,177.04 L160.30,176.84 L160.80,176.64 L161.30,176.43 L161.80,176.21 L162.30,175.99 L162.80,175.76 L163.30,175.52 L163.80,175.28 L164.30,175.03 L164.80,174.78 L165.30,174.52 L165.80,174.26 L166.30,173.99 L166.80,173.71 L167.30,173.43 L167.80,173.15 L168.30,172.86 L168.80,172.56 L169.30,172.26 L169.80,171.95 L170.30,171.63 L170.80,171.32 L171.30,170.99 L171.80,170.66 L172.30,170.33 L172.80,169.99 L173.30,169.64 L173.80,169.30 L174.30,168.94 L174.80,168.58 L175.30,168.22 L175.80,167.85 L176.30,167.47 L176.80,167.09 L177.30,166.71 L177.80,166.32 L178.30,165.92 L178.80,165.53 L179.30,165.12 L179.80,164.71 L180.30,164.30 L180.80,163.88 L181.30,163.46 L181.80,163.04 L182.30,162.61 L182.80,162.17 L183.30,161.73 L183.80,161.29 L184.30,160.84 L184.80,160.39 L185.30,159.93 L185.80,159.47 L186.30,159.00 L186.80,158.53 L187.30,158.06 L187.80,157.58 L188.30,157.10 L188.80,156.61 L189.30,156.12 L189.80,155.63 L190.30,155.13 L190.80,154.63 L191.30,154.12 L191.80,153.61 L192.30,153.10 L192.80,152.58 L193.30,152.06 L193.80,151.54 L194.30,151.01 L194.80,150.48 L195.30,149.95 L195.80,149.41 L196.30,148.87 L196.80,148.32 L197.30,147.77 L197.80,147.22 L198.30,146.66 L198.80,146.11 L199.30,145.54 L199.80,144.98 L200.30,144.41 L200.80,143.84 L201.30,143.26 L201.80,142.68 L202.30,142.10 L202.80,141.52 L203.30,140.93 L203.80,140.34 L204.30,139.75 L204.80,139.15 L205.30,138.56 L205.80,137.96 L206.30,137.35 L206.80,136.75 L207.30,136.14 L207.80,135.53 L208.30,134.92 L208.80,134.30 L209.30,133.69 L209.80,133.07 L210.30,132.46 L210.80,131.84 L211.30,131.22 L211.80,130.60 L212.30,129.99 L212.80,129.37 L213.30,128.75 L213.80,128.14 L214.30,127.52 L214.80,126.90 L215.30,126.29 L215.80,125.68 L216.30,125.07 L216.80,124.46 L217.30,123.85 L217.80,123.25 L218.30,122.65 L218.80,122.05 L219.30,121.45 L219.80,120.85 L220.30,120.26 L220.80,119.68 L221.30,119.09 L221.80,118.51 L222.30,117.94 L222.80,117.37 L223.30,116.80 L223.80,116.24 L224.30,115.68 L224.80,115.13 L225.30,114.58 L225.80,114.04 L226.30,113.50 L226.80,112.97 L227.30,112.45 L227.80,111.93 L228.30,111.42 L228.80,110.91 L229.30,110.42 L229.80,109.93 L230.30,109.44 L230.80,108.97 L231.30,108.50 L231.80,108.04 L232.30,107.59 L232.80,107.14 L233.30,106.71 L233.80,106.28 L234.30,105.86 L234.80,105.45 L235.30,105.06 L235.80,104.67 L236.30,104.29 L236.80,103.92 L237.30,103.56 L237.80,103.21 L238.30,102.87 L238.80,102.54 L239.30,102.22 L239.80,101.92 L240.30,101.63 L240.80,101.34 L241.30,101.07 L241.80,100.81 L242.30,100.57 L242.80,100.33 L243.30,100.11 L243.80,99.90 L244.30,99.71 L244.80,99.52 L245.30,99.35 L245.80,99.20 L246.30,99.06 L246.80,98.93 L247.30,98.82 L247.80,98.72 L248.30,98.63 L248.80,98.56 L249.30,98.51 L249.80,98.47 L250.30,98.45 L250.80,98.44 L251.30,98.45 L251.80,98.47 L252.30,98.51 L252.80,98.56 L253.30,98.64 L253.80,98.72 L254.30,98.83 L254.80,98.95 L255.30,99.08 L255.80,99.23 L256.30,99.40 L256.80,99.59 L257.30,99.79 L257.80,100.01 L258.30,100.24 L258.80,100.49 L259.30,100.76 L259.80,101.05 L260.30,101.35 L260.80,101.67 L261.30,102.01 L261.80,102.36 L262.30,102.73 L262.80,103.12 L263.30,103.53 L263.80,103.95 L264.30,104.40 L264.80,104.85 L265.30,105.33 L265.80,105.83 L266.30,106.34 L266.80,106.87 L267.30,107.42 L267.80,107.99 L268.30,108.57 L268.80,109.18 L269.30,109.80 L269.80,110.44 L270.30,111.10 L270.80,111.78 L271.30,112.47 L271.80,113.18 L272.30,113.91 L272.80,114.65 L273.30,115.40 L273.80,116.17 L274.30,116.96 L274.80,117.75 L275.30,118.56 L275.80,119.38 L276.30,120.22 L276.80,121.06 L277.30,121.92 L277.80,122.78 L278.30,123.65 L278.80,124.54 L279.30,125.43 L279.80,126.33 L280.30,127.23 L280.80,128.15 L281.30,129.07 L281.80,129.99 L282.30,130.92 L282.80,131.86 L283.30,132.79 L283.80,133.74 L284.30,134.68 L284.80,135.63 L285.30,136.58 L285.80,137.53 L286.30,138.49 L286.80,139.44 L287.30,140.41 L287.80,141.37 L288.30,142.34 L288.80,143.32 L289.30,144.30 L289.80,145.28 L290.30,146.27 L290.80,147.27 L291.30,148.27 L291.80,149.28 L292.30,150.29 L292.80,151.31 L293.30,152.33 L293.80,153.35 L294.30,154.37 L294.80,155.39 L295.30,156.41 L295.80,157.44 L296.30,158.46 L296.80,159.48 L297.30,160.50 L297.80,161.51 L298.30,162.53 L298.80,163.54 L299.30,164.54 L299.80,165.54 L300.30,166.53 L300.80,167.53 L301.30,168.51 L301.80,169.50 L302.30,170.48 L302.80,171.47 L303.30,172.45 L303.80,173.44 L304.30,174.42 L304.80,175.41 L305.30,176.40 L305.80,177.40 L306.30,178.40 L306.80,179.41 L307.30,180.43 L307.80,181.45 L308.30,182.48 L308.80,183.51 L309.30,184.54 L309.80,185.56 L310.30,186.58 L310.80,187.58 L311.30,188.56 L311.80,189.53 L312.30,190.47 L312.80,191.38 L313.30,192.26 L313.80,193.12 L314.30,193.94 L314.80,194.74 L315.30,195.52 L315.80,196.27 L316.30,196.99 L316.80,197.69 L317.30,198.36 L317.80,199.01 L318.30,199.64 L318.80,200.24 L319.30,200.83 L319.80,201.39 L320.30,201.92 L320.80,202.44 L321.30,202.94 L321.80,203.42 L322.30,203.88 L322.80,204.32 L323.30,204.74 L323.80,205.14 L324.30,205.53 L324.80,205.90 L325.30,206.25 L325.80,206.59 L326.30,206.92 L326.80,207.23 L327.30,207.52 L327.80,207.80 L328.30,208.07 L328.80,208.32 L329.30,208.57 L329.80,208.80 L330.30,209.02 L330.80,209.23 L331.30,209.43 L331.80,209.62 L332.30,209.81 L332.80,209.98 L333.30,210.14 L333.80,210.30 L334.30,210.45 L334.80,210.60 L335.30,210.74 L335.80,210.87 L336.30,211.00 L336.80,211.12 L337.30,211.24 L337.80,211.36 L338.30,211.48 L338.80,211.59 L339.30,211.70 L339.80,211.81 L340.30,211.92 L340.80,212.02 L341.30,212.13 L341.80,212.24 L342.30,212.35 L342.50,212.40"/>
</g>
<g stroke="#000" stroke-width="1.3" fill="none" shape-rendering="auto">
<path d="M58.8,7.2 H342.5 V222"/>
<path d="M58.8,6.5 V219.5"/>
<path d="M52,216.5 H342.5"/>
<path d="M52,216.30 H58.8"/>
<path d="M54.8,201.39 H58.8"/>
<path d="M52,186.48 H58.8"/>
<path d="M54.8,171.57 H58.8"/>
<path d="M52,156.66 H58.8"/>
<path d="M54.8,141.75 H58.8"/>
<path d="M52,126.84 H58.8"/>
<path d="M54.8,111.93 H58.8"/>
<path d="M52,97.02 H58.8"/>
<path d="M54.8,82.11 H58.8"/>
<path d="M52,67.20 H58.8"/>
<path d="M54.8,52.29 H58.8"/>
<path d="M52,37.38 H58.8"/>
<path d="M54.8,22.47 H58.8"/>
<path d="M52,7.56 H58.8"/>
<path d="M69.8,216.5 V221.8"/>
<path d="M97.5,216.5 V221"/>
<path d="M125,216.5 V221.8"/>
<path d="M152.5,216.5 V221"/>
<path d="M180.2,216.5 V221.8"/>
<path d="M207.7,216.5 V221"/>
<path d="M235,216.5 V221.8"/>
<path d="M263,216.5 V221"/>
<path d="M290.4,216.5 V221.8"/>
<path d="M318,216.5 V221"/>
</g>
<g stroke-width="2.9" fill="none">
<path stroke="#000000" d="M373.8,10.2 H400.8"/>
<path stroke="#0000cc" d="M373.8,91.0 H400.8"/>
<path stroke="#006000" d="M373.8,134.2 H400.8"/>
<path stroke="#cf6410" d="M373.8,177.6 H400.8"/>
<path stroke="#e00000" d="M373.8,220.6 H400.8"/>
</g>
<g font-family="Liberation Sans, sans-serif" font-weight="bold" font-size="17.2" fill="#000">
<text x="50.2" y="222.20" text-anchor="end">0.0</text>
<text x="50.2" y="192.38" text-anchor="end">0.2</text>
<text x="50.2" y="162.56" text-anchor="end">0.4</text>
<text x="50.2" y="132.74" text-anchor="end">0.6</text>
<text x="50.2" y="102.92" text-anchor="end">0.8</text>
<text x="50.2" y="73.10" text-anchor="end">1.0</text>
<text x="50.2" y="43.28" text-anchor="end">1.2</text>
<text x="50.2" y="13.46" text-anchor="end">1.4</text>
<text x="69.80" y="236" text-anchor="middle">300</text>
<text x="125.00" y="236" text-anchor="middle">350</text>
<text x="180.20" y="236" text-anchor="middle">400</text>
<text x="235.00" y="236" text-anchor="middle">450</text>
<text x="290.40" y="236" text-anchor="middle">500</text>
<text x="342.5" y="236" text-anchor="middle">550</text>
<text x="197.6" y="258.1" text-anchor="middle" letter-spacing="0.07">Wavelength (nm)</text>
<text transform="translate(14,115) rotate(-90)" x="0" y="0" text-anchor="middle">Absorbance (a.u.)</text>
<text x="409.5" y="15.8" letter-spacing="0.16">Poly(PhAVE-AcOH)</text>
<text x="429.5" y="49" text-anchor="middle">Conversion</text>
<text x="430" y="69.6" text-anchor="middle">of IBVE</text>
<text x="419" y="98.3">27%</text>
<text x="419" y="142.1">40%</text>
<text x="419" y="185.6">76%</text>
<text x="419" y="228.5">98%</text>
</g>
</svg>
</body></html>
